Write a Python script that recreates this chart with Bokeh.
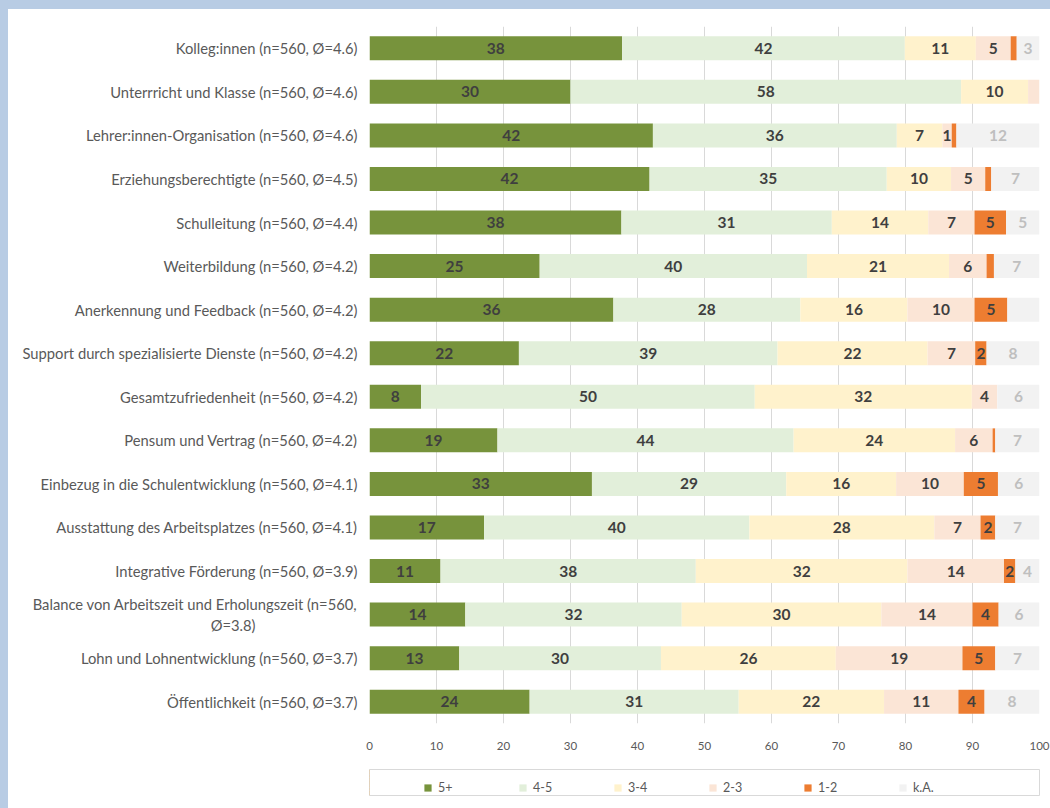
from bokeh.plotting import figure
from bokeh.layouts import column
from bokeh.models import ColumnDataSource, FactorRange, Range1d, Legend, LegendItem
from bokeh.core.properties import value
from bokeh.embed import file_html
from bokeh.resources import INLINE

categories = [
    "Kolleg:innen (n=560, Ø=4.6)",
    "Unterrricht und Klasse (n=560, Ø=4.6)",
    "Lehrer:innen-Organisation (n=560, Ø=4.6)",
    "Erziehungsberechtigte (n=560, Ø=4.5)",
    "Schulleitung (n=560, Ø=4.4)",
    "Weiterbildung (n=560, Ø=4.2)",
    "Anerkennung und Feedback (n=560, Ø=4.2)",
    "Support durch spezialisierte Dienste (n=560, Ø=4.2)",
    "Gesamtzufriedenheit (n=560, Ø=4.2)",
    "Pensum und Vertrag (n=560, Ø=4.2)",
    "Einbezug in die Schulentwicklung (n=560, Ø=4.1)",
    "Ausstattung des Arbeitsplatzes (n=560, Ø=4.1)",
    "Integrative Förderung (n=560, Ø=3.9)",
    "Balance von Arbeitszeit und Erholungszeit (n=560,\nØ=3.8)" + "\u00a0" * 27,
    "Lohn und Lohnentwicklung (n=560, Ø=3.7)",
    "Öffentlichkeit (n=560, Ø=3.7)",
]

series = ["5+", "4-5", "3-4", "2-3", "1-2", "k.A."]

s_5plus = [37.7, 30.0, 42.3, 41.8, 37.6, 25.4, 36.4, 22.3, 7.7, 19.1, 33.2, 17.1, 10.6, 14.3, 13.4, 23.9]
s_4_5   = [42.2, 58.3, 36.4, 35.4, 31.4, 39.9, 27.9, 38.6, 49.8, 44.2, 29.0, 39.6, 38.1, 32.3, 30.1, 31.2]
s_3_4   = [10.6, 10.0, 6.8, 9.6, 14.4, 21.2, 16.0, 22.4, 32.4, 24.1, 16.4, 27.6, 31.6, 29.8, 26.1, 21.7]
s_2_3   = [5.2, 1.7, 1.4, 5.1, 6.9, 5.6, 10.0, 7.1, 3.8, 5.6, 10.1, 6.9, 14.4, 13.6, 18.9, 11.1]
s_1_2   = [0.9, 0.0, 0.7, 0.9, 4.7, 1.1, 4.9, 1.7, 0.0, 0.4, 5.1, 2.2, 1.7, 3.9, 4.9, 3.9]
s_ka    = [3.4, 0.0, 12.4, 7.2, 5.0, 6.8, 4.8, 7.9, 6.3, 6.6, 6.2, 6.6, 3.6, 6.1, 6.6, 8.2]

# segments whose value label is not shown in the reference (category index, series)
hidden_labels = [(1, "2-3"), (6, "k.A.")]

colors = ["#77933C", "#E2EFDA", "#FFF2CC", "#FBE5D6", "#ED7D31", "#F2F2F2"]
label_colors = ["#3F3F3F", "#3F3F3F", "#3F3F3F", "#3F3F3F", "#3F3F3F", "#BFBFBF"]

values = [s_5plus, s_4_5, s_3_4, s_2_3, s_1_2, s_ka]
data = {"cat": categories}
for name, vals in zip(series, values):
    data[name] = vals
source = ColumnDataSource(data)

p = figure(
    width=1042, height=755,
    y_range=FactorRange(factors=list(reversed(categories))),
    x_range=(0, 100),
    output_backend="svg", toolbar_location=None,
    min_border_left=361, min_border_right=11, min_border_top=18, min_border_bottom=40,
)
p.outline_line_color = None
p.background_fill_color = "white"
p.border_fill_color = "white"

renderers = p.hbar_stack(series, y="cat", height=0.55, color=colors, source=source, line_width=0)

# value labels
lx, ly, lt, lc = [], [], [], []
for i, cat in enumerate(categories):
    left = 0.0
    for j, name in enumerate(series):
        v = values[j][i]
        if v >= 1.3 and (i, name) not in hidden_labels:
            lx.append(left + v / 2.0)
            ly.append(cat)
            lt.append(f"{v:.0f}")
            lc.append(label_colors[j])
        left += v
lsrc = ColumnDataSource(dict(x=lx, y=ly, t=lt, c=lc))
p.text(x="x", y="y", text="t", text_color="c", source=lsrc,
       text_align="center", text_baseline="middle",
       text_font=value("Lato"), text_font_style="bold", text_font_size="15.5px")

# axes
p.xaxis.ticker = list(range(0, 101, 10))
p.xaxis.axis_line_color = None
p.xaxis.major_tick_line_color = None
p.xaxis.minor_tick_line_color = None
p.xaxis.major_label_text_font = "Lato"
p.xaxis.major_label_text_font_size = "11.5px"
p.xaxis.major_label_text_color = "#595959"
p.xaxis.major_label_standoff = 12

p.yaxis.axis_line_color = None
p.yaxis.major_tick_line_color = None
p.yaxis.minor_tick_line_color = None
p.yaxis.major_label_text_font = "Lato"
p.yaxis.major_label_text_font_size = "14.75px"
p.yaxis.major_label_text_color = "#595959"
p.yaxis.major_label_standoff = 6

p.xgrid.grid_line_color = "#D9D9D9"
p.xgrid.grid_line_width = 1
p.ygrid.grid_line_color = None

# legend strip below: same stacked data, drawn outside its visible x range,
# so only the legend (with the frame outline as its box) shows
lg = figure(
    width=1042, height=45, x_range=Range1d(200, 300),
    y_range=FactorRange(factors=list(reversed(categories))),
    x_axis_type=None, y_axis_type=None,
    output_backend="svg", toolbar_location=None,
    min_border_left=361, min_border_right=11, min_border_top=6, min_border_bottom=13,
)
lg.grid.visible = False
lg.outline_line_color = "#D9D9D9"
lg.outline_line_width = 1
lg.background_fill_color = "white"
lg.border_fill_color = "white"
lg_renderers = lg.hbar_stack(series, y="cat", height=0.55, color=colors, source=source, line_width=0)

legend = Legend(
    items=[LegendItem(label=s, renderers=[r]) for s, r in zip(series, lg_renderers)],
    orientation="horizontal", location=(54, 0),
    glyph_width=9, glyph_height=9, label_standoff=6, label_width=80, spacing=0,
    padding=5, margin=0,
    border_line_color=None, background_fill_alpha=0,
    label_text_font="Lato", label_text_font_size="12.5px", label_text_color="#595959",
)
lg.add_layout(legend, "center")

layout = column(p, lg, spacing=0)

html = file_html(layout, INLINE, title="Zufriedenheit")
html = html.replace(
    "</head>",
    "<style>html,body{margin:0;padding:0;overflow:hidden;background:#FFFFFF}"
    "body{padding:8px 0 0 8px}"
    "body::before{content:'';position:fixed;left:0;top:0;width:8px;height:100%;background:#B8CCE4;z-index:10}"
    "body::after{content:'';position:fixed;left:0;top:0;width:100%;height:9px;background:#B8CCE4;z-index:10}"
    "</style></head>", 1)
open("out.html", "w").write(html)
